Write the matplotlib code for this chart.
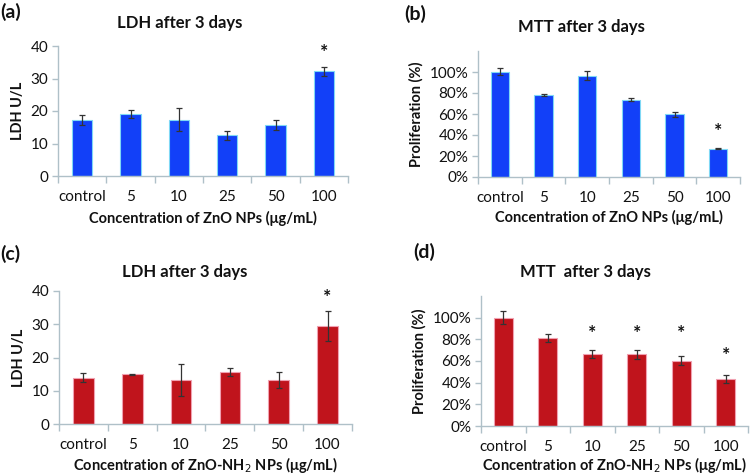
import matplotlib
matplotlib.use("Agg")
from matplotlib import pyplot as plt
from matplotlib.ticker import FuncFormatter
import numpy as np

plt.rcParams['font.family'] = ['Lato', 'DejaVu Sans']

categories = ['control', '5', '10', '25', '50', '100']

# (a) LDH, ZnO NPs
ldh_zno = [17.3, 19.0, 17.3, 12.5, 15.7, 32.2]
ldh_zno_err = [1.5, 1.3, 3.6, 1.3, 1.4, 1.3]
ldh_zno_star = [None, None, None, None, None, 38.0]

# (b) MTT, ZnO NPs
mtt_zno = [1.003, 0.783, 0.965, 0.736, 0.596, 0.268]
mtt_zno_err = [0.033, 0.01, 0.04, 0.015, 0.02, 0.005]
mtt_zno_star = [None, None, None, None, None, 0.436]

# (c) LDH, ZnO-NH2 NPs
ldh_nh2 = [13.9, 14.9, 13.2, 15.6, 13.2, 29.5]
ldh_nh2_err = [1.35, 0.2, 4.7, 1.25, 2.35, 4.6]
ldh_nh2_star = [None, None, None, None, None, 37.9]

# (d) MTT, ZnO-NH2 NPs
mtt_nh2 = [1.0, 0.812, 0.668, 0.662, 0.603, 0.434]
mtt_nh2_err = [0.058, 0.04, 0.038, 0.04, 0.04, 0.04]
mtt_nh2_star = [None, None, 0.85, 0.85, 0.85, 0.65]

blue = '#1240F8'
blue_edge = '#7FD8F5'
red = '#C0141C'
red_edge = '#F0A0B0'
axis_col = '#AFC0C8'
text_col = '#111111'

fig = plt.figure(figsize=(7.56, 4.75), dpi=100)


def panel(rect, vals, errs, stars, color, edge, ylim, yticks, pct, ylabel, title,
          title_xy, xlabel, xlabel_y, letter, letter_xy):
    ax = fig.add_axes(rect)
    x = np.arange(len(categories))
    ax.bar(x, vals, width=0.42, color=color, edgecolor=edge, linewidth=0.8, zorder=2)
    ax.errorbar(x, vals, yerr=errs, fmt='none', ecolor='#333333', elinewidth=0.9,
                capsize=2.5, capthick=0.9, zorder=3)
    for xi, s in zip(x, stars):
        if s is not None:
            ax.text(xi, s, '*', ha='center', va='center', fontsize=14,
                    fontweight='bold', color=text_col)
    ax.set_xlim(-0.5, len(categories) - 0.5)
    ax.set_ylim(*ylim)
    ax.set_yticks(yticks)
    if pct:
        ax.yaxis.set_major_formatter(FuncFormatter(lambda v, p: '%d%%' % round(v * 100)))
    ax.set_xticks(x)
    ax.set_xticklabels(categories)
    ax.set_xticks(np.arange(-0.5, len(categories), 1.0), minor=True)
    ax.tick_params(axis='x', which='major', length=0, pad=10, labelsize=11,
                   labelcolor=text_col)
    ax.tick_params(axis='x', which='minor', length=5, color=axis_col, width=1)
    ax.tick_params(axis='y', length=4, color=axis_col, width=1, labelsize=11,
                   labelcolor=text_col, pad=3)
    for sp in ['top', 'right']:
        ax.spines[sp].set_visible(False)
    for sp in ['left', 'bottom']:
        ax.spines[sp].set_color(axis_col)
        ax.spines[sp].set_linewidth(1)
    ax.set_ylabel(ylabel, fontsize=10.5, fontweight='bold', color=text_col, labelpad=4)
    fig.text(title_xy[0] / 756, 1 - title_xy[1] / 475, title, ha='center', va='center',
             fontsize=12, fontweight='bold', color=text_col)
    fig.text((rect[0] + rect[2] * 0.5), 1 - xlabel_y / 475, xlabel, ha='center',
             va='center', fontsize=10.5, fontweight='bold', color=text_col)
    fig.text(letter_xy[0] / 756, 1 - letter_xy[1] / 475, letter, ha='left', va='center',
             fontsize=14, fontweight='bold', color=text_col)
    return ax


panel([58 / 756, 1 - 176 / 475, 290 / 756, 130 / 475], ldh_zno, ldh_zno_err, ldh_zno_star,
      blue, blue_edge, (0, 40), [0, 10, 20, 30, 40], False, 'LDH U/L',
      'LDH after 3 days', (180, 23), 'Concentration of ZnO NPs (μg/mL)', 218,
      '(a)', (0, 12))

panel([478 / 756, 1 - 177 / 475, 262 / 756, 126 / 475], mtt_zno, mtt_zno_err, mtt_zno_star,
      blue, blue_edge, (0, 1.2), [0, 0.2, 0.4, 0.6, 0.8, 1.0], True, 'Proliferation (%)',
      'MTT after 3 days', (581, 27), 'Concentration of ZnO NPs (μg/mL)', 217,
      '(b)', (404, 14))

panel([59 / 756, 1 - 424 / 475, 293 / 756, 133 / 475], ldh_nh2, ldh_nh2_err, ldh_nh2_star,
      red, red_edge, (0, 40), [0, 10, 20, 30, 40], False, 'LDH U/L',
      'LDH after 3 days', (185, 272), 'Concentration of ZnO-NH$_2$ NPs (μg/mL)', 465,
      '(c)', (0, 254))

panel([481 / 756, 1 - 426 / 475, 267 / 756, 130 / 475], mtt_nh2, mtt_nh2_err, mtt_nh2_star,
      red, red_edge, (0, 1.2), [0, 0.2, 0.4, 0.6, 0.8, 1.0], True, 'Proliferation (%)',
      'MTT  after 3 days', (585, 272), 'Concentration of ZnO-NH$_2$ NPs (μg/mL)', 465,
      '(d)', (413, 252))

fig.savefig('out.png', dpi=100)
